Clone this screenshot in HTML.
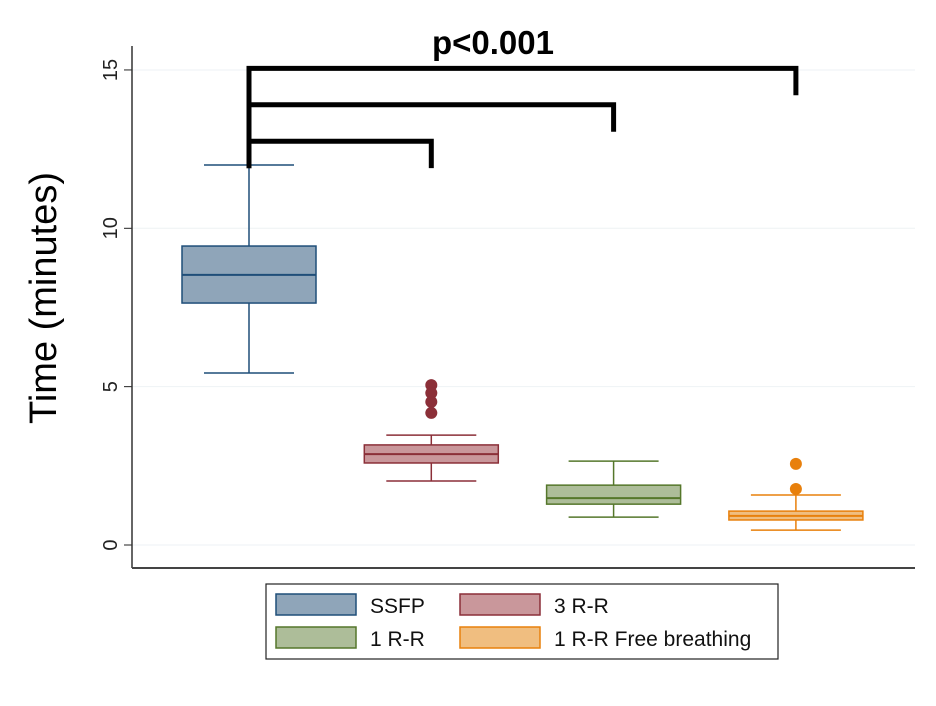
<!DOCTYPE html>
<html><head><meta charset="utf-8"><style>
html,body{margin:0;padding:0;background:#fff;}
svg{display:block;font-family:"Liberation Sans",Arial,sans-serif;}
</style></head><body>
<svg id="chart" width="936" height="706" viewBox="0 0 936 706" xmlns="http://www.w3.org/2000/svg">
<rect width="936" height="706" fill="#fff"/>
<g id="grid"></g>
<g id="axes"></g>
<g id="boxes"></g>
<g id="brackets"></g>
<text x="493" y="54" font-size="33" font-weight="bold" text-anchor="middle">p&lt;0.001</text>
<text transform="translate(56,298) rotate(-90)" font-size="38" text-anchor="middle">Time (minutes)</text>
<g id="legend"></g>
</svg>
<script>
const categories = ["SSFP", "3 R-R", "1 R-R", "1 R-R Free breathing"];
const whiskerLow = [5.43, 2.02, 0.88, 0.47];
const q1Values = [7.64, 2.59, 1.29, 0.79];
const medians = [8.53, 2.87, 1.48, 0.92];
const q3Values = [9.44, 3.16, 1.89, 1.07];
const whiskerHigh = [12.0, 3.47, 2.65, 1.58];
const outliers = [[], [5.05, 4.8, 4.52, 4.17], [], [2.56, 1.77]];
const yTicks = [0, 5, 10, 15];
const bracketTargets = [1, 2, 3];
const bracketHeights = [12.75, 13.9, 15.05];
const bracketDrops = [11.9, 13.05, 14.2];

const strokeCols = ["#1f4e79", "#8b2f38", "#55772b", "#e8800c"];
const fillCols = ["#8fa5b9", "#c9979b", "#adbd99", "#f0be80"];
const NS = "http://www.w3.org/2000/svg";
const X0 = 132, X1 = 915, YB = 568;
function y(v){ return 545 - v * 31.67; }
function x(i){ return 249 + i * 182.3; }
function mk(tag, attrs, parent){
  const e = document.createElementNS(NS, tag);
  for (const k in attrs) e.setAttribute(k, attrs[k]);
  parent.appendChild(e); return e;
}
const grid = document.getElementById('grid'), axes = document.getElementById('axes');
yTicks.forEach(t => {
  const g = mk('line', {x1: X0, x2: X1, y1: y(t), y2: y(t), stroke: '#eef2f4', 'stroke-width': 1}, grid);
  
  
  const tk = mk('line', {x1: 124, x2: X0, y1: y(t), y2: y(t), stroke: '#222', 'stroke-width': 1}, axes);
  
  
  const lb = mk('text', {transform: `translate(117,${y(t)}) rotate(-90)`, 'font-size': 20, 'text-anchor': 'middle', fill: '#222'}, axes);
  lb.textContent = t;
  
  
});
const ya = mk('line', {x1: X0, x2: X0, y1: 46, y2: YB, stroke: '#333', 'stroke-width': 1.5}, axes);


const xa = mk('line', {x1: X0, x2: X1, y1: YB, y2: YB, stroke: '#444', 'stroke-width': 2}, axes);



const boxes = document.getElementById('boxes');
categories.forEach((c, i) => {
  const g = mk('g', {}, boxes);
  
  
  const cx = x(i), s = strokeCols[i], hw = 67, cw = 45;
  mk('line', {x1: cx, x2: cx, y1: y(whiskerHigh[i]), y2: y(q3Values[i]), stroke: s, 'stroke-width': 1.5}, g);
  mk('line', {x1: cx, x2: cx, y1: y(q1Values[i]), y2: y(whiskerLow[i]), stroke: s, 'stroke-width': 1.5}, g);
  mk('line', {x1: cx - cw, x2: cx + cw, y1: y(whiskerHigh[i]), y2: y(whiskerHigh[i]), stroke: s, 'stroke-width': 1.5}, g);
  mk('line', {x1: cx - cw, x2: cx + cw, y1: y(whiskerLow[i]), y2: y(whiskerLow[i]), stroke: s, 'stroke-width': 1.5}, g);
  mk('rect', {x: cx - hw, y: y(q3Values[i]), width: 2 * hw, height: y(q1Values[i]) - y(q3Values[i]), fill: fillCols[i], stroke: s, 'stroke-width': 1.5}, g);
  mk('line', {x1: cx - hw, x2: cx + hw, y1: y(medians[i]), y2: y(medians[i]), stroke: s, 'stroke-width': 2}, g);
  outliers[i].forEach(o => {
    const d = mk('circle', {cx: cx, cy: y(o), r: 6, fill: s}, g);
    
    
  });
});

const br = document.getElementById('brackets');
bracketTargets.forEach((t, k) => {
  const p = mk('path', {d: `M${x(0)},${y(bracketDrops[0])} L${x(0)},${y(bracketHeights[k])} L${x(t)},${y(bracketHeights[k])} L${x(t)},${y(bracketDrops[k])}`, fill: 'none', stroke: '#000', 'stroke-width': 5}, br);
  
  
});

const lg = document.getElementById('legend');
const lbox = mk('rect', {x: 266, y: 584, width: 512, height: 75, fill: '#fff', stroke: '#222', 'stroke-width': 1.2}, lg);


categories.forEach((c, i) => {
  const col = i % 2, row = Math.floor(i / 2);
  const sx = col ? 460 : 276, sy = row ? 627 : 594;
  const g = mk('g', {}, lg);
  
  
  mk('rect', {x: sx, y: sy, width: 80, height: 21, fill: fillCols[i], stroke: strokeCols[i], 'stroke-width': 1.5}, g);
  const t = mk('text', {x: sx + 94, y: sy + 19, 'font-size': 21, fill: '#111'}, g);
  t.textContent = c;
});
</script>
</body></html>
